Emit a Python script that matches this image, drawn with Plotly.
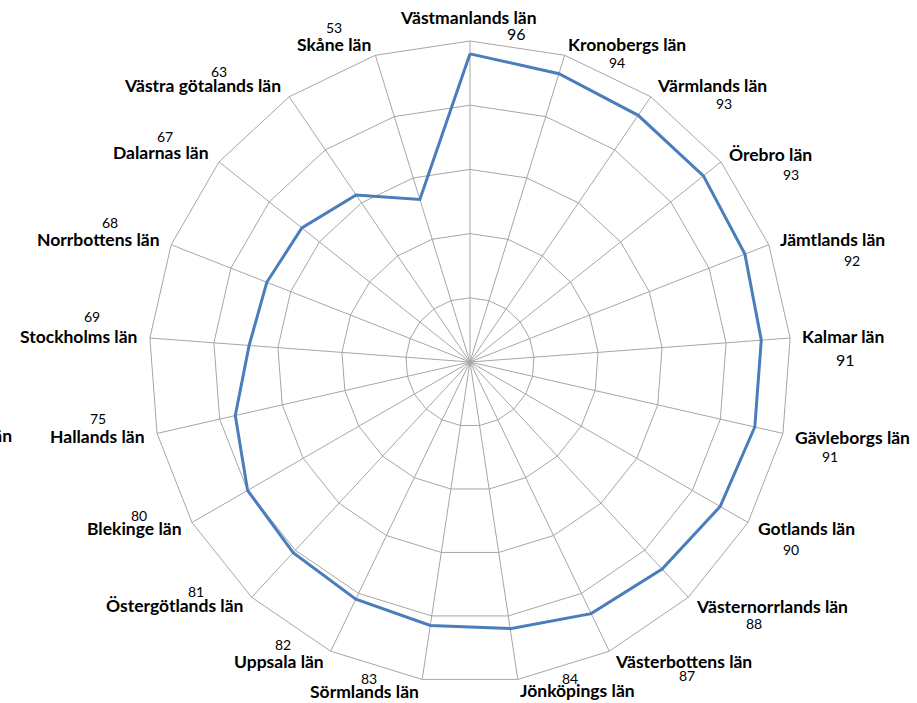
import plotly.graph_objects as go

# ---- data ----
categories = ["Västmanlands län", "Kronobergs län", "Värmlands län", "Örebro län",
              "Jämtlands län", "Kalmar län", "Gävleborgs län", "Gotlands län",
              "Västernorrlands län", "Västerbottens län", "Jönköpings län",
              "Sörmlands län", "Uppsala län", "Östergötlands län", "Blekinge län",
              "Hallands län", "Stockholms län", "Norrbottens län", "Dalarnas län",
              "Västra götalands län", "Skåne län"]
values = [96, 94, 93, 93, 92, 91, 91, 90, 88, 87, 84, 83, 82, 81, 80, 75, 69, 68, 67, 63, 53]

# ---- layout helpers (label placement in pixels, figure 917x703) ----
W, H = 917, 703
cat_pos = [(469, 17), (627, 44), (712, 86), (770, 155), (832, 240), (843, 336),
           (852, 437), (806, 528), (772, 606), (683, 661), (577, 690), (364, 691),
           (279, 661), (174, 605), (134, 528), (97, 436), (78, 336), (98, 240),
           (161, 153), (202, 86), (334, 44)]
val_pos = [(516, 33), (617, 62), (724, 103), (791, 174), (852, 260), (845, 359),
           (830, 456), (791, 549), (754, 623), (687, 675), (570, 678), (369, 678),
           (283, 644), (196, 591), (139, 515), (98, 418), (92, 316), (110, 222),
           (165, 137), (219, 72), (334, 28)]
val_size = [16, 14, 14, 14, 14, 16, 14, 14, 14, 14, 14, 14, 14,
            14, 14, 14, 14, 14, 14, 14, 14]

FONT = "Lato"
GRID = "#A6A6A6"
LINE = "#4A7EBB"

fig = go.Figure()
fig.add_trace(go.Scatterpolar(
    r=values + [values[0]],
    theta=categories + [categories[0]],
    mode="lines",
    line=dict(color=LINE, width=3),
    hoverinfo="skip",
    showlegend=False,
))

annotations = []
for name, (px, py) in zip(categories, cat_pos):
    annotations.append(dict(
        text=name, x=px / W, y=1 - py / H, xref="paper", yref="paper",
        xanchor="center", yanchor="middle", showarrow=False,
        font=dict(family=FONT, size=17.5, color="#000000", weight="bold")))
for v, (px, py), s in zip(values, val_pos, val_size):
    annotations.append(dict(
        text=str(v), x=px / W, y=1 - py / H, xref="paper", yref="paper",
        xanchor="center", yanchor="middle", showarrow=False,
        font=dict(family=FONT, size=s, color="#000000")))
# partially visible label at the left edge
annotations.append(dict(
    text="län", x=13 / W, y=1 - 435 / H, xref="paper", yref="paper",
    xanchor="right", yanchor="middle", showarrow=False, borderpad=0,
    font=dict(family=FONT, size=17.5, color="#000000", weight="bold")))

fig.update_layout(
    width=W, height=H,
    margin=dict(l=0, r=0, t=0, b=0),
    paper_bgcolor="white",
    plot_bgcolor="white",
    showlegend=False,
    annotations=annotations,
    polar=dict(
        domain=dict(x=[149 / W, 791 / W], y=[20 / H, 662 / H]),
        bgcolor="white",
        gridshape="linear",
        radialaxis=dict(range=[0, 100], dtick=20, showticklabels=False, ticks="",
                        showline=False, gridcolor=GRID, gridwidth=1),
        angularaxis=dict(type="category", direction="clockwise", rotation=90,
                         showticklabels=False, ticks="", showline=True,
                         linecolor=GRID, linewidth=1, gridcolor=GRID, gridwidth=1),
    ),
)

fig.write_html("out.html",
               config={"displayModeBar": False},
               post_script="document.body.style.margin='0';document.body.style.padding='0';")
